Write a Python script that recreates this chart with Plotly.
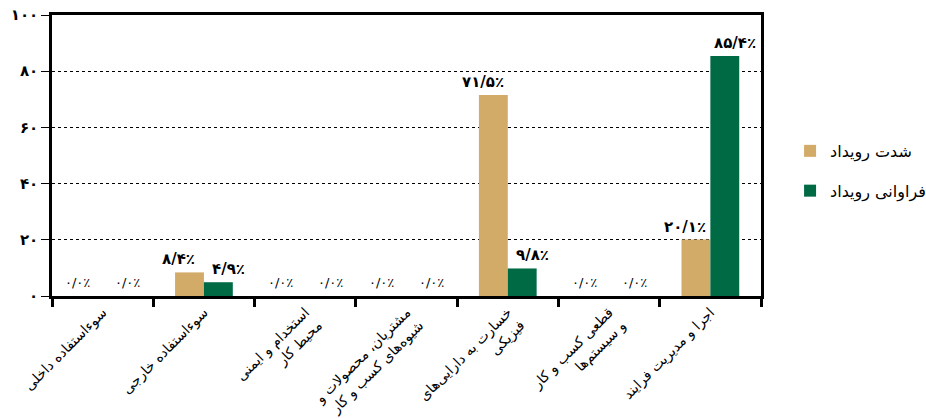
import plotly.graph_objects as go

categories = [
    "سوءاستفاده داخلی",
    "سوءاستفاده خارجی",
    "استخدام و ایمنی<br>محیط کار",
    "مشتریان، محصولات و<br>شیوه‌های کسب و کار",
    "خسارت به دارایی‌های<br>فیزیکی",
    "قطعی کسب و کار<br>و سیستم‌ها",
    "اجرا و مدیریت فرایند",
]
severity = [0.0, 8.4, 0.0, 0.0, 71.5, 0.0, 20.1]
frequency = [0.0, 4.9, 0.0, 0.0, 9.8, 0.0, 85.4]
series_names = ["شدت رویداد", "فراوانی رویداد"]
y_ticks = [0, 20, 40, 60, 80, 100]

FA = str.maketrans("0123456789.", "۰۱۲۳۴۵۶۷۸۹/")

def fa(s):
    return s.translate(FA)

def pct(v):
    return fa(f"{v:.1f}") + "٪"

FONT = "DejaVu Sans"
colors = ["#D3AB68", "#006A44"]
shifts = [-25, 25]

fig = go.Figure()
for name, vals, col, sh in zip(series_names, [severity, frequency], colors, shifts):
    fig.add_trace(go.Bar(
        x=categories, y=vals, name=name, legendgroup=name,
        marker=dict(color=col, line=dict(width=0)),
        cliponaxis=False,
    ))
    for c, v in zip(categories, vals):
        if v > 0:
            txt, fsize, ysh = "<b>" + pct(v) + "</b>", 15, 2
        else:
            txt, fsize, ysh = pct(v), 13, 4
        fig.add_annotation(x=c, y=v, text=txt, showarrow=False,
                           xshift=sh, yanchor="bottom", yshift=ysh,
                           font=dict(family=FONT, size=fsize, color="black"))

fig.update_layout(
    width=926, height=418,
    margin=dict(l=52, r=165, t=15, b=122, autoexpand=False),
    plot_bgcolor="white", paper_bgcolor="white",
    barmode="group", bargap=0.43, bargroupgap=0,
    font=dict(family=FONT, color="black"),
    legend=dict(x=1.041, y=0.445, xanchor="left", yanchor="middle",
                font=dict(family=FONT, size=16, color="black"),
                itemwidth=30,
                traceorder="grouped", tracegroupgap=16),
)
fig.update_xaxes(
    automargin=False, ticklabeloverflow="allow",
    showline=True, linecolor="black", linewidth=2.5, mirror=True,
    ticks="outside", tickson="boundaries", ticklen=8, tickwidth=2.5, tickcolor="black",
    tickangle=-45, tickfont=dict(family=FONT, size=14, color="black"),
    showgrid=False,
)
fig.update_yaxes(
    automargin=False, ticklabeloverflow="allow",
    range=[0, 100], tickvals=y_ticks, ticktext=["<b>" + fa(str(t)) + "</b>" for t in y_ticks],
    showline=True, linecolor="black", linewidth=2.5, mirror=True,
    ticks="outside", ticklen=8, tickcolor="black", tickwidth=1,
    tickfont=dict(family=FONT, size=15, color="black"),
    showgrid=True, gridcolor="black", gridwidth=1, griddash="dot",
    zeroline=False,
)
fig.write_html("out.html", config={"displayModeBar": False},
               post_script="document.body.style.margin='0';")
